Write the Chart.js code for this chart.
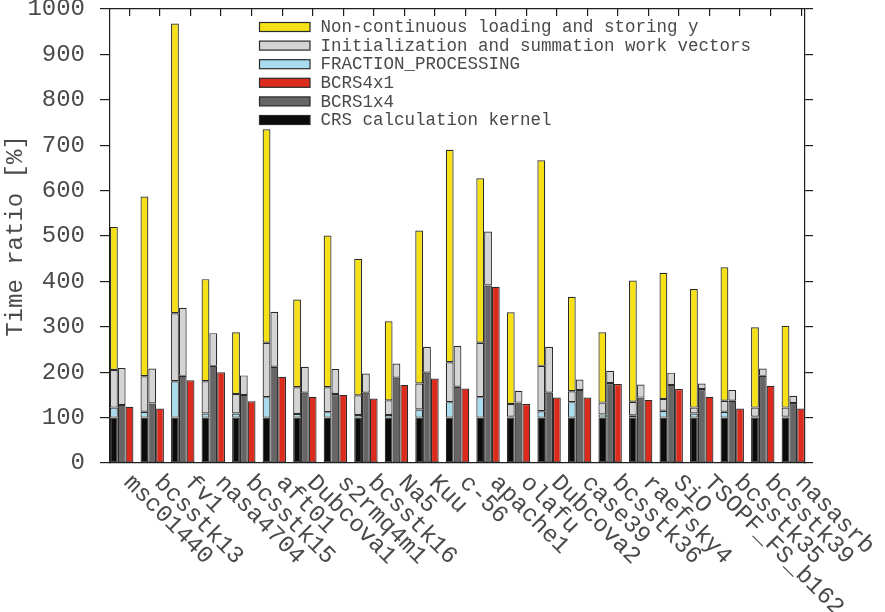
<!DOCTYPE html>
<html>
<head>
<meta charset="utf-8">
<title>Time ratio per matrix</title>
<script src="https://cdn.jsdelivr.net/npm/chart.js@4.4.1/dist/chart.umd.min.js"></script>
<style>
  html, body { margin: 0; padding: 0; background: #ffffff; }
  #wrap { width: 885px; height: 612px; }
</style>
</head>
<body>
<div id="wrap"><canvas id="chart" width="885" height="612"></canvas></div>
<script>
// Test matrices, in plotting order
const matrices = ['msc01440', 'bcsstk13', 'fv1', 'nasa4704', 'bcsstk15', 'aft01', 'Dubcova1',
  's2rmq4m1', 'bcsstk16', 'Na5', 'Kuu', 'c-56', 'apache1', 'olafu', 'Dubcova2', 'case39',
  'bcsstk36', 'raefsky4', 'SiO', 'TSOPF_FS_b162', 'bcsstk35', 'bcsstk39', 'nasasrb'];

// CRS stack (bottom to top), time ratio [%]
const crsKernel = [100, 100, 100, 100, 100, 100, 100, 100, 100, 100, 100, 100,
  100, 100, 100, 100, 100, 100, 100, 100, 100, 100, 100];
const fractionProcessing = [22, 13, 80, 9, 9, 45, 8, 12, 6, 6, 18, 34,
  45, 2, 14, 34, 7, 5, 15, 9, 13, 2, 2];
const initCrs = [83, 78, 150, 71, 43, 120, 59, 55, 43, 32, 57, 88,
  120, 28, 100, 24, 26, 30, 26, 13, 24, 20, 20];
const nonContinuousY = [315, 396, 638, 225, 136, 470, 193, 334, 301, 174, 337, 468,
  362, 202, 453, 208, 155, 267, 278, 261, 294, 177, 180];

// BCRS1x4 stack (bottom to top)
const bcrs1x4 = [128, 131, 192, 214, 150, 212, 155, 152, 155, 188, 199, 168,
  391, 133, 155, 161, 176, 144, 172, 163, 137, 192, 132];
const initBcrs1x4 = [81, 77, 150, 72, 43, 121, 57, 55, 42, 31, 57, 90,
  119, 26, 101, 23, 27, 29, 27, 12, 24, 16, 16];

// BCRS4x1 bar
const bcrs4x1 = [124, 120, 182, 200, 136, 190, 146, 150, 142, 172, 186, 164,
  388, 130, 144, 144, 174, 139, 163, 146, 120, 170, 120];

const yTicks = [0, 100, 200, 300, 400, 500, 600, 700, 800, 900, 1000];

const FONT = '"Liberation Mono", "DejaVu Sans Mono", monospace';
const TEXT = '#4a4a4a';
const LINE = '#1e1e1e';
const CAT_PCT = 0.7665;          // share of each slot taken by a group of three bars
const X_PAD = CAT_PCT / 2;       // groups touch the left/right frame
const idx = matrices.map((_, i) => i);

const C = {
  yellow: '#f5e116',
  lgray: '#d4d4d4',
  lblue: '#a8dcee',
  red: '#dc2b1c',
  dgray: '#676565',
  black: '#0b0b0b'
};

function ds(label, data, color, stack) {
  return {
    label, data, stack,
    backgroundColor: color,
    borderColor: '#2b2b2b',
    borderWidth: 1.2,
    borderSkipped: false,
    categoryPercentage: CAT_PCT,
    barPercentage: 1
  };
}

const datasets = [
  ds('CRS calculation kernel', crsKernel, C.black, 'crs'),
  ds('FRACTION_PROCESSING', fractionProcessing, C.lblue, 'crs'),
  ds('Initialization and summation work vectors', initCrs, C.lgray, 'crs'),
  ds('Non-continuous loading and storing y', nonContinuousY, C.yellow, 'crs'),
  ds('BCRS1x4', bcrs1x4, C.dgray, 'b14'),
  ds('Initialization and summation work vectors', initBcrs1x4, C.lgray, 'b14'),
  ds('BCRS4x1', bcrs4x1, C.red, 'b41')
];

// Legend rows, top to bottom, as dataset indices
const legendOrder = [3, 2, 1, 6, 4, 0];

const decorations = {
  id: 'decorations',
  afterDraw(chart) {
    const ctx = chart.ctx;
    const area = chart.chartArea;
    const xs = chart.scales.x;

    // rotated matrix names under the axis
    ctx.save();
    ctx.fillStyle = TEXT;
    ctx.font = '24px ' + FONT;
    ctx.textAlign = 'left';
    ctx.textBaseline = 'middle';
    matrices.forEach((name, i) => {
      const px = xs.getPixelForValue(i + CAT_PCT / 3);
      ctx.save();
      ctx.translate(px - 2, area.bottom + 16);
      ctx.rotate(Math.PI / 4);
      ctx.fillText(name, 0, 0);
      ctx.restore();
    });
    ctx.restore();

    // legend inside the plot, upper right
    ctx.save();
    const bx = 259.5, bw = 50.5, bh = 9, y0 = 27, dy = 18.6;
    ctx.font = '17.5px ' + FONT;
    ctx.textAlign = 'left';
    ctx.textBaseline = 'middle';
    legendOrder.forEach((di, r) => {
      const d = chart.data.datasets[di];
      const cy = y0 + r * dy;
      ctx.fillStyle = d.backgroundColor;
      ctx.fillRect(bx, cy - bh / 2, bw, bh);
      ctx.strokeStyle = '#2b2b2b';
      ctx.lineWidth = 1.2;
      ctx.strokeRect(bx, cy - bh / 2, bw, bh);
      ctx.fillStyle = TEXT;
      ctx.fillText(d.label, 320.5, cy + 0.5);
    });
    ctx.restore();
  }
};

function noPad(s) {
  s.paddingTop = 0; s.paddingBottom = 0; s.paddingLeft = 0; s.paddingRight = 0;
}

new Chart(document.getElementById('chart'), {
  type: 'bar',
  data: { labels: idx, datasets },
  options: {
    responsive: false,
    animation: false,
    devicePixelRatio: 1,
    layout: { padding: { top: 9, left: 0, right: 0, bottom: 0 } },
    plugins: {
      legend: { display: false },
      tooltip: { enabled: false }
    },
    scales: {
      x: {
        type: 'linear',
        position: 'bottom',
        offset: false,
        min: -X_PAD,
        max: matrices.length - 1 + X_PAD,
        afterBuildTicks: s => { s.ticks = idx.map(v => ({ value: v })); },
        ticks: { display: false },
        grid: { display: true, offset: false, drawOnChartArea: false, drawTicks: false },
        border: { display: true, color: LINE, width: 1.2 },
        afterFit: s => { s.height = 149; noPad(s); }
      },
      x2: {
        type: 'linear',
        position: 'top',
        offset: false,
        min: -X_PAD,
        max: matrices.length - 1 + X_PAD,
        afterBuildTicks: s => { s.ticks = idx.map(v => ({ value: v + CAT_PCT / 3 })); },
        ticks: { display: false },
        grid: { display: true, offset: false, drawOnChartArea: false, drawTicks: true, tickLength: -7, color: LINE, lineWidth: 1.2 },
        border: { display: true, color: LINE, width: 1.2 },
        afterFit: s => { s.height = 0; noPad(s); }
      },
      y: {
        type: 'linear',
        position: 'left',
        stacked: true,
        min: 0,
        max: 1000,
        afterBuildTicks: s => { s.ticks = yTicks.map(v => ({ value: v })); },
        ticks: { padding: 15, color: TEXT, font: { family: FONT, size: 24 }, callback: v => String(v) },
        grid: { display: true, drawOnChartArea: false, drawTicks: true, tickLength: 10, color: LINE, lineWidth: 1.2 },
        border: { display: true, color: LINE, width: 1.2 },
        title: {
          display: true,
          text: 'Time ratio [%]',
          color: TEXT,
          font: { family: FONT, size: 24 },
          padding: { top: 1, bottom: 0 }
        },
        afterFit: s => { s.width = 110; noPad(s); }
      },
      y2: {
        type: 'linear',
        position: 'right',
        min: 0,
        max: 1000,
        afterBuildTicks: s => { s.ticks = yTicks.map(v => ({ value: v })); },
        ticks: { display: false },
        grid: { display: true, drawOnChartArea: false, drawTicks: true, tickLength: 8, color: LINE, lineWidth: 1.2 },
        border: { display: true, color: LINE, width: 1.2 },
        afterFit: s => { s.width = 80; noPad(s); }
      }
    }
  },
  plugins: [decorations]
});
</script>
</body>
</html>
